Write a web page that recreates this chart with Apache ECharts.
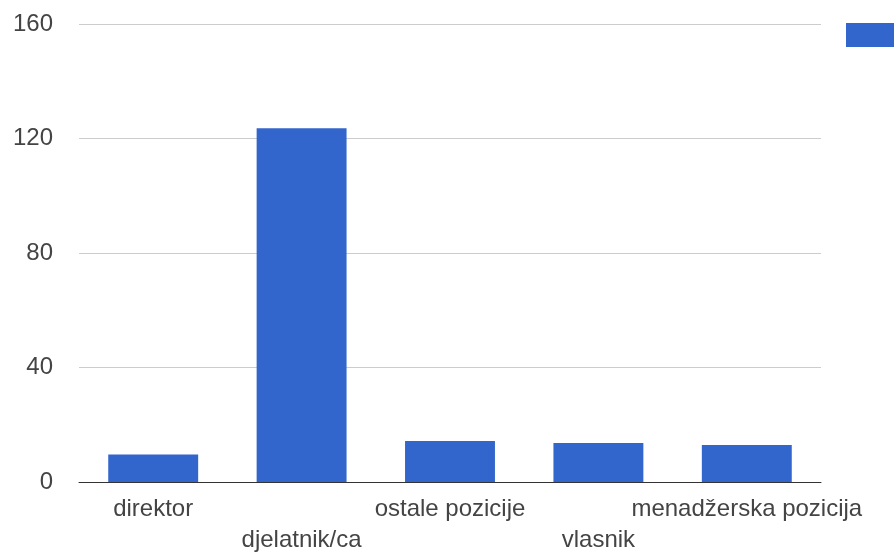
<!DOCTYPE html>
<html>
<head>
<meta charset="utf-8">
<script src="https://cdn.jsdelivr.net/npm/echarts@6/dist/echarts.min.js"></script>
<style>html,body{margin:0;padding:0;background:#fff;}#c{width:894px;height:554px;}</style>
</head>
<body>
<div id="c"></div>
<script>
var categories = ['direktor', 'djelatnik/ca', 'ostale pozicije', 'vlasnik', 'menadžerska pozicija'];
var values = [9.6, 123.6, 14.3, 13.6, 12.9];
var yTicks = { min: 0, max: 160, interval: 40 };
var seriesName = 'Broj';

var chart = echarts.init(document.getElementById('c'), null, { renderer: 'canvas' });
chart.setOption({
  animation: false,
  backgroundColor: '#ffffff',
  legend: {
    show: true,
    left: 846,
    top: 23,
    padding: 0,
    itemWidth: 48,
    itemHeight: 24,
    itemGap: 0,
    icon: 'rect',
    formatter: function () { return ''; },
    data: [seriesName]
  },
  grid: { left: 79, right: 73, top: 24, bottom: 72, containLabel: false, outerBoundsMode: 'none' },
  xAxis: {
    type: 'category',
    data: categories,
    axisLine: { show: true, lineStyle: { color: '#333333', width: 1 } },
    axisTick: { show: false },
    axisLabel: {
      interval: 0,
      margin: 12,
      color: '#444444',
      fontFamily: 'Liberation Sans, Arial, sans-serif',
      fontSize: 24,
      lineHeight: 31,
      verticalAlign: 'top',
      formatter: function (v, i) { return i % 2 === 1 ? '\n' + v : v; }
    }
  },
  yAxis: {
    type: 'value',
    min: yTicks.min,
    max: yTicks.max,
    interval: yTicks.interval,
    axisLine: { show: false },
    axisTick: { show: false },
    splitLine: { lineStyle: { color: '#cccccc', width: 1 } },
    axisLabel: {
      margin: 26,
      color: '#444444',
      fontFamily: 'Liberation Sans, Arial, sans-serif',
      fontSize: 24
    }
  },
  series: [{
    name: seriesName,
    type: 'bar',
    data: values,
    barWidth: '60.6%',
    itemStyle: { color: '#3366cc' }
  }]
});
</script>
</body>
</html>
